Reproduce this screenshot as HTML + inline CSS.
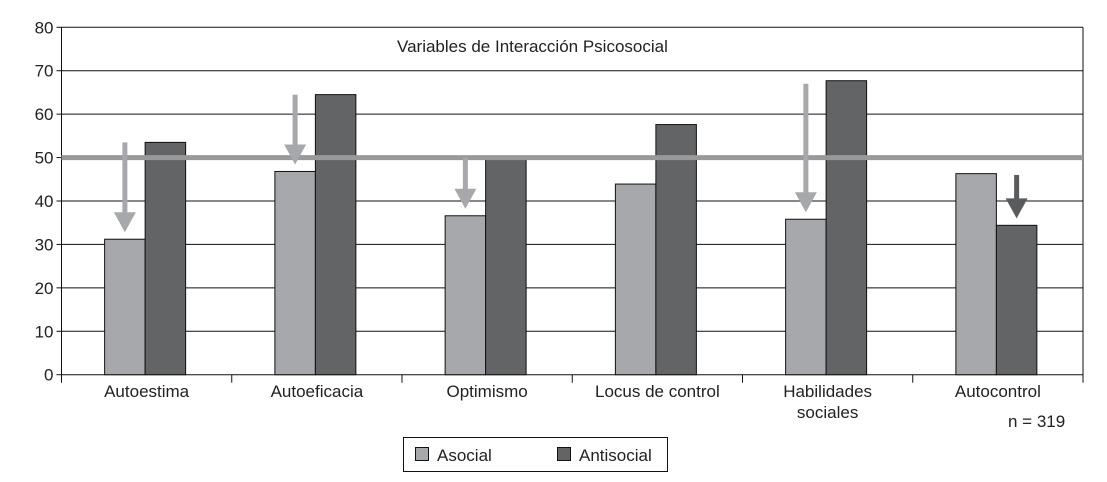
<!DOCTYPE html>
<html><head><meta charset="utf-8"><style>
body{margin:0;background:#fff;}
svg{display:block;font-family:"Liberation Sans",Arial,sans-serif;}
</style></head><body>
<svg id="c" width="1107" height="482"></svg>
<script>
const categories=[["Autoestima"],["Autoeficacia"],["Optimismo"],["Locus de control"],["Habilidades","sociales"],["Autocontrol"]];
const asocial=[31.2,46.8,36.6,43.9,35.8,46.3];
const antisocial=[53.5,64.5,50,57.6,67.7,34.4];
const yTicks=[0,10,20,30,40,50,60,70,80];
const refValue=50;
// arrows: [category index, series (0 asocial,1 antisocial), start value]
const arrowCat=[0,1,2,4,5];
const arrowSeries=[0,0,0,0,1];
const arrowStart=[53.5,64.5,50,67,46];

const NS="http://www.w3.org/2000/svg";
const svg=document.getElementById('c');
const X0=61.5,X1=1083,Y0=374.7,Y80=27.3;
const FS=17;
const y=v=>Y0-(v/80)*(Y0-Y80);
const cw=(X1-X0)/categories.length;
const cx=i=>X0+cw*(i+0.5);
function mk(t,a,p){const e=document.createElementNS(NS,t);for(const k in a)e.setAttribute(k,a[k]);(p||svg).appendChild(e);return e;}
yTicks.forEach(t=>{
  const g=mk('line',{x1:X0,x2:X1,y1:y(t),y2:y(t),stroke:'#111','stroke-width':1});
  
  
  const tk=mk('line',{x1:X0-5,x2:X0,y1:y(t),y2:y(t),stroke:'#111'});
  
  
  const l=mk('text',{x:X0-8,y:y(t)+6,'text-anchor':'end','font-size':FS,fill:'#222'});l.textContent=t;
  
  
});
const ax=mk('line',{x1:X0,x2:X0,y1:Y80,y2:Y0+8,stroke:'#111'});


const rb=mk('line',{x1:X1,x2:X1,y1:Y80,y2:Y0+8,stroke:'#111'});


for(let i=1;i<categories.length;i++){
  const t=mk('line',{x1:X0+cw*i,x2:X0+cw*i,y1:Y0,y2:Y0+8,stroke:'#111'});
  
  
}
const BW=40.5;
categories.forEach((c,i)=>{
  const c0=cx(i);
  const b1=mk('rect',{x:c0-42,y:y(asocial[i]),width:BW,height:Y0-y(asocial[i]),fill:'#a7a8ab',stroke:'#111','stroke-width':1});
  
  
  const b2=mk('rect',{x:c0-42+BW,y:y(antisocial[i]),width:BW,height:Y0-y(antisocial[i]),fill:'#636466',stroke:'#111','stroke-width':1});
  
  
  c.forEach((ln,j)=>{
    const t=mk('text',{x:c0,y:397+j*21,'text-anchor':'middle','font-size':FS,fill:'#222'});t.textContent=ln;
    
    
  });
});
const ref=mk('line',{x1:X0,x2:X1,y1:y(refValue),y2:y(refValue),stroke:'#999','stroke-width':5});


arrowCat.forEach((ci,k)=>{
  const s=arrowSeries[k];
  const ax_=cx(ci)-42+BW*s+BW/2;
  const tv=s===0?asocial[ci]:antisocial[ci];
  const col=s===0?'#a7a8ab':'#5a5b5d';
  const tip=y(tv)-7, ys=y(arrowStart[k]);
  const g=mk('g',{});
  
  
  mk('line',{x1:ax_,x2:ax_,y1:ys,y2:tip-12,stroke:col,'stroke-width':5},g);
  mk('polygon',{points:`${ax_-11},${tip-20} ${ax_+11},${tip-20} ${ax_},${tip}`,fill:col},g);
});
const tt=mk('text',{x:397,y:52,'font-size':FS,fill:'#222'});tt.textContent='Variables de Interacción Psicosocial';


const n=mk('text',{x:1008,y:427,'font-size':FS,fill:'#222'});n.textContent='n = 319';


const lg=mk('g',{});


mk('rect',{x:403.5,y:437.5,width:264,height:34,fill:'#fff',stroke:'#111'},lg);
mk('rect',{x:415.5,y:447.5,width:13,height:13,fill:'#a7a8ab',stroke:'#111'},lg);
const l1=mk('text',{x:437,y:461,'font-size':FS,fill:'#222'},lg);l1.textContent='Asocial';
mk('rect',{x:557.5,y:447.5,width:13,height:13,fill:'#636466',stroke:'#111'},lg);
const l2=mk('text',{x:579,y:461,'font-size':FS,fill:'#222'},lg);l2.textContent='Antisocial';
</script>
</body></html>
